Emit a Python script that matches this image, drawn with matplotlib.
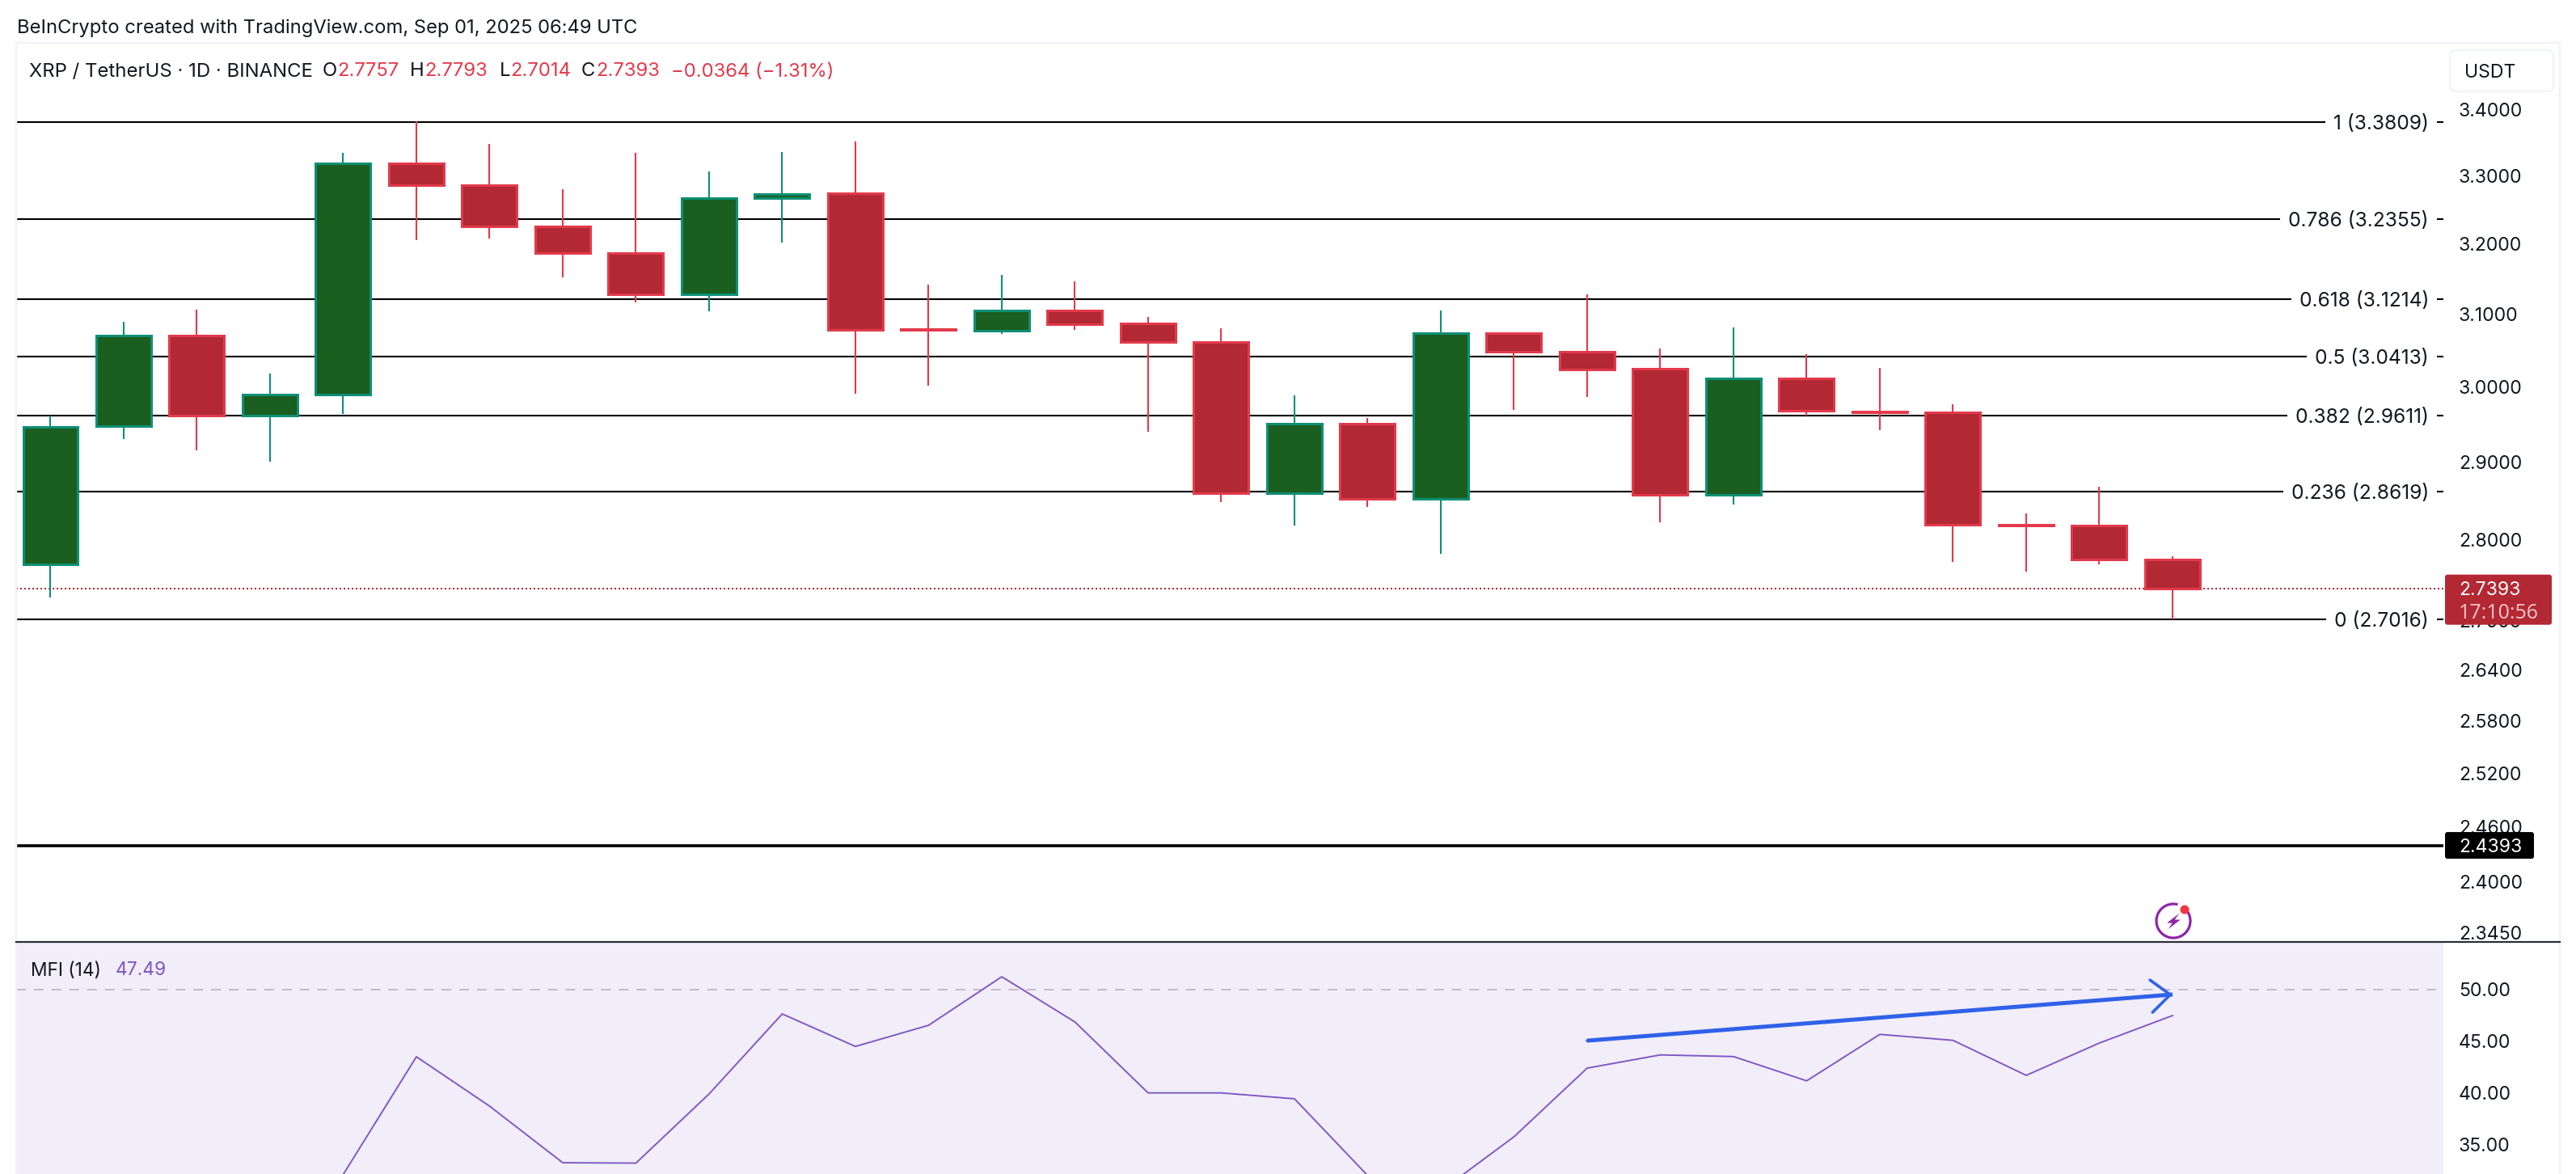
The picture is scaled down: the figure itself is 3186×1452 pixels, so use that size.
import numpy as np
import matplotlib
matplotlib.use("Agg")
import matplotlib.pyplot as plt
from matplotlib.patches import FancyBboxPatch, Arc, Circle, Polygon

plt.rcParams['font.family'] = ['Inter', 'DejaVu Sans']

# Daily XRP/USDT candles
opens = [2.7687, 2.9478, 3.0707, 2.9618, 2.9900, 3.3186, 3.2861, 3.2256, 3.1870, 3.1283,
         3.2670, 3.2742, 3.0791, 3.0774, 3.1056, 3.0875, 3.0617, 2.8599, 2.9511, 2.8517,
         3.0740, 3.0484, 3.0251, 2.8578, 3.0119, 2.9672, 2.9661, 2.8186, 2.8176, 2.7757]
highs = [2.9618, 3.0898, 3.1067, 3.0185, 3.3344, 3.3821, 3.3477, 3.2801, 3.3344, 3.3066,
         3.3356, 3.3514, 3.1420, 3.1558, 3.1466, 3.0965, 3.0808, 2.9889, 2.9586, 3.1056,
         3.0752, 3.1283, 3.0528, 3.0819, 3.0450, 3.0262, 2.9770, 2.8340, 2.8683, 2.7793]
lows = [2.7276, 2.9307, 2.9158, 2.9009, 2.9640, 3.2050, 3.2080, 3.1524, 3.1169, 3.1045,
        3.2022, 2.9911, 3.0021, 3.0723, 3.0780, 2.9403, 2.8485, 2.8176, 2.8423, 2.7818,
        2.9694, 2.9868, 2.8217, 2.8454, 2.9618, 2.9425, 2.7726, 2.7596, 2.7695, 2.7014]
closes = [2.9468, 3.0707, 2.9618, 2.9900, 3.3186, 3.2861, 3.2256, 3.1870, 3.1283, 3.2670,
          3.2730, 3.0785, 3.0785, 3.1056, 3.0864, 3.0611, 2.8599, 2.9511, 2.8517, 3.0735,
          3.0484, 3.0240, 2.8578, 3.0119, 2.9683, 2.9661, 2.8186, 2.8176, 2.7747, 2.7393]

# Money Flow Index, from the fifth session onward
mfi_index = list(range(4, 30))
mfi_values = [32.1, 43.5, 38.72, 33.24, 33.2, 39.9, 47.65, 44.5, 46.55, 51.25, 46.87, 40.0, 40.0,
              39.43, 32.0, 30.5, 35.75, 42.4, 43.68, 43.52, 41.17, 45.67, 45.09, 41.7, 44.83, 47.49]

fib_ratios = ["1", "0.786", "0.618", "0.5", "0.382", "0.236", "0"]
fib_prices = [3.3809, 3.2355, 3.1214, 3.0413, 2.9611, 2.8619, 2.7016]

price_ticks = [3.4, 3.3, 3.2, 3.1, 3.0, 2.9, 2.8, 2.7, 2.64, 2.58, 2.52, 2.46, 2.40, 2.345]
mfi_ticks = [50, 45, 40, 35]
last_price = 2.7393
support_price = 2.4393
countdown = "17:10:56"
trend_start = (21, 45.06)
trend_end = (29, 49.53)

UP_FILL, UP_EDGE = "#1a5e20", "#0e8f75"
DOWN_FILL, DOWN_EDGE = "#b22833", "#e23a4b"
INK = "#131722"
RED_TEXT = "#e23b4c"
PURPLE = "#7e57c2"

W, H = 3186, 1452
DPI = 100
PX = 72 / DPI
FS = 16.6
L, R, T, MID = 20, 3022, 53, 1165

fig = plt.figure(figsize=(W / DPI, H / DPI), dpi=DPI, facecolor="white")
ax = fig.add_axes([L / W, 1 - MID / H, (R - L) / W, (MID - T) / H])
pane = fig.add_axes([L / W, 0, (R - L) / W, (H - MID) / H], sharex=ax)

# Price pane
ax.set_yscale("log")
ax.set_xlim((L - 62.5) / 90.5, (R - 62.5) / 90.5)
ax.set_ylim(2.3353, 3.5039)
for s in ax.spines.values():
    s.set_visible(False)
for s in pane.spines.values():
    s.set_visible(False)

ax.yaxis.tick_right()
ax.set_yticks(price_ticks)
ax.set_yticklabels([f"{v:.4f}" for v in price_ticks], fontsize=FS, color=INK)
ax.minorticks_off()
ax.tick_params(axis="y", which="both", length=0, pad=19 * PX)
ax.tick_params(axis="x", which="both", length=0, labelbottom=False)

ax.hlines(fib_prices, *ax.get_xlim(), color="black", lw=2.1 * PX, zorder=1)
for ratio, price in zip(fib_ratios, fib_prices):
    ax.annotate(f"{ratio} ({price:.4f})", xy=(1, price), xycoords=ax.get_yaxis_transform(),
                xytext=(-18 * PX, 0), textcoords="offset points", ha="right", va="center_baseline",
                fontsize=17.7, color=INK, zorder=2,
                bbox=dict(fc="white", ec="none", pad=10 * PX))

ax.hlines(last_price, *ax.get_xlim(), color=DOWN_FILL, lw=2 * PX, linestyles=(0, (1, 1.5)), zorder=1)
ax.hlines(support_price, *ax.get_xlim(), color="black", lw=3.6 * PX, zorder=1)

xs = np.arange(len(opens))
o, h, l, c = map(np.array, (opens, highs, lows, closes))
rising = c > o
edge = np.where(rising, UP_EDGE, DOWN_EDGE)
fill = np.where(rising, UP_FILL, DOWN_FILL)
ax.vlines(xs, l, h, colors=edge, lw=2.1 * PX, zorder=3)
ax.bar(xs, np.abs(c - o), bottom=np.minimum(o, c), width=68 / 90.5, color=fill, edgecolor=edge,
       linewidth=3 * PX, zorder=4)

# Money Flow Index pane
pane.set_facecolor("#f1edf9")
pane.set_ylim(50 - (H - 1224) / 12.77, 50 + (1224 - MID) / 12.77)
pane.yaxis.tick_right()
pane.set_yticks(mfi_ticks)
pane.set_yticklabels([f"{v:.2f}" for v in mfi_ticks], fontsize=FS, color=INK)
pane.tick_params(axis="y", length=0, pad=19 * PX)
pane.tick_params(axis="x", length=0, labelbottom=False)
pane.axhline(50, color="#b4b2bc", lw=1.6 * PX, linestyle=(0, (7.5, 6.2)), zorder=1)
pane.plot(mfi_index, mfi_values, color=PURPLE, lw=1.9 * PX, zorder=2)

pane.plot([trend_start[0], trend_end[0]], [trend_start[1], trend_end[1]],
          color="#2f62e8", lw=5 * PX, solid_capstyle="butt", zorder=3)
pane.annotate("", xy=trend_end, xytext=trend_start,
              arrowprops=dict(arrowstyle="->,head_length=1.0,head_width=0.85", color="#2f62e8",
                              lw=3.6 * PX, shrinkA=0, shrinkB=0, mutation_scale=17), zorder=3)

# Overlay in figure pixels for the interface furniture
ov = fig.add_axes([0, 0, 1, 1], facecolor="none")
ov.set_xlim(0, W)
ov.set_ylim(H, 0)
ov.axis("off")


def to_px(axes, value):
    display = axes.transData.transform((0, value))
    return ov.transData.inverted().transform(display)[1]


frame = "#f0f3fa"
ov.plot([L, L, 3166, 3166], [H, T, T, H], color=frame, lw=2.5 * PX)
ov.plot([L, 3166], [MID, MID], color="#2a2e39", lw=2.2 * PX)

ov.text(21, 32, "BeInCrypto created with TradingView.com, Sep 01, 2025 06:49 UTC",
        fontsize=17.1, color=INK, va="center_baseline")

ov.text(36, 86, "XRP / TetherUS · 1D · BINANCE", fontsize=17.2, color=INK, va="center_baseline")
legend_parts = [(399, "O", INK), (417.5, "2.7757", RED_TEXT), (507, "H", INK), (525.6, "2.7793", RED_TEXT),
                (617.5, "L", INK), (631.6, "2.7014", RED_TEXT), (719, "C", INK), (737, "2.7393", RED_TEXT),
                (829.5, "−0.0364 (−1.31%)", RED_TEXT)]
for x, s, col in legend_parts:
    ov.text(x, 86, s, fontsize=17.2, color=col, va="center_baseline")

ov.text(37.5, 1198, "MFI (14)", fontsize=16.4, color=INK, va="center_baseline")
ov.text(143, 1198, "47.49", fontsize=16.4, color=PURPLE, va="center_baseline")

ov.add_patch(FancyBboxPatch((3034, 66), 120, 43, boxstyle="round,pad=4,rounding_size=8",
                            fc="white", ec=frame, lw=2 * PX))
ov.text(3048, 87, "USDT", fontsize=FS, color=INK, va="center_baseline")

# Price tags on the axis
y_last = to_px(ax, last_price)
ov.add_patch(FancyBboxPatch((3026, y_last - 15), 128, 58, boxstyle="round,pad=2,rounding_size=3",
                            fc=DOWN_FILL, ec="none", zorder=5))
ov.text(3041, y_last, f"{last_price:.4f}", fontsize=FS, color="white", va="center_baseline", zorder=6)
ov.text(3041, y_last + 27.5, countdown, fontsize=18, family=["Open Sans", "DejaVu Sans"],
        color="#f4c6cb", va="center_baseline", zorder=6)

y_sup = to_px(ax, support_price)
ov.add_patch(FancyBboxPatch((3026, y_sup - 14.5), 106, 29, boxstyle="round,pad=2,rounding_size=3",
                            fc="black", ec="none", zorder=5))
ov.text(3041, y_sup, f"{support_price:.4f}", fontsize=FS, color="white", va="center_baseline", zorder=6)

# Event marker under the last candle
cx, cy = 2688, 1139
ov.add_patch(Arc((cx, cy), 42, 42, theta1=-40, theta2=285, color="#8e24aa", lw=3.2 * PX))
bolt = np.array([(7.4, -9.4), (-7.9, 2.5), (-1.3, 2.5), (-6.1, 9.9), (8.7, -1.5), (1.7, -1.5)])
ov.add_patch(Polygon(bolt + (cx, cy), closed=True, fc="#8e24aa", ec="none"))
ov.add_patch(Circle((cx + 14, cy - 14), 5.5, fc="#f23645", ec="none"))

fig.savefig("out.png", dpi=DPI, facecolor="white")
